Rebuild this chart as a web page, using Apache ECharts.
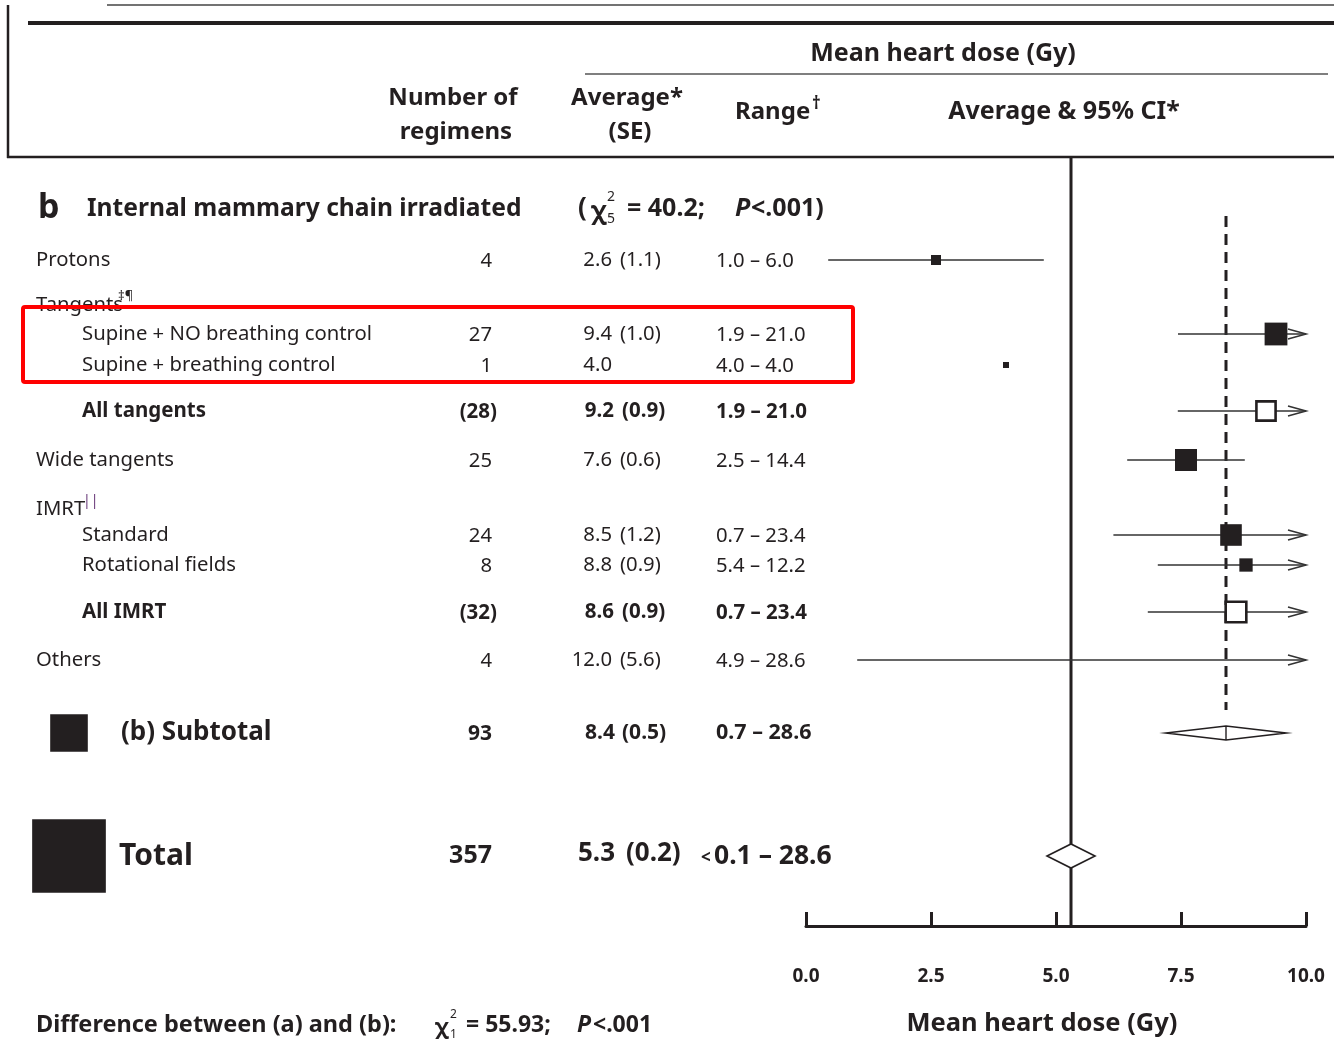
<!DOCTYPE html>
<html>
<head>
<meta charset="utf-8">
<script src="https://cdn.jsdelivr.net/npm/echarts@6/dist/echarts.min.js"></script>
<style>
html, body { margin: 0; padding: 0; background: #fff; }
#main { width: 1334px; height: 1042px; }
</style>
</head>
<body>
<div id="main"></div>
<script>
// 表格数据
var rowLabels = ['Protons', 'Tangents', 'Supine + NO breathing control', 'Supine + breathing control',
    'All tangents', 'Wide tangents', 'IMRT', 'Standard', 'Rotational fields', 'All IMRT', 'Others',
    '(b) Subtotal', 'Total'];
var rowKinds = ['study', 'group', 'study', 'study', 'pooled', 'study', 'group', 'study', 'study',
    'pooled', 'study', 'subtotal', 'total'];
var regimens = [4, null, 27, 1, 28, 25, null, 24, 8, 32, 4, 93, 357];
var averages = [2.6, null, 9.4, 4.0, 9.2, 7.6, null, 8.5, 8.8, 8.6, 12.0, 8.4, 5.3];
var stdErrors = [1.1, null, 1.0, null, 0.9, 0.6, null, 1.2, 0.9, 0.9, 5.6, 0.5, 0.2];
var ranges = ['1.0 – 6.0', '', '1.9 – 21.0', '4.0 – 4.0', '1.9 – 21.0', '2.5 – 14.4', '',
    '0.7 – 23.4', '5.4 – 12.2', '0.7 – 23.4', '4.9 – 28.6', '0.7 – 28.6', '0.1 – 28.6'];
var xTicks = [0, 2.5, 5, 7.5, 10];

// 版式 (行的位置, 缩进)
var rowY = [260, 305, 334, 365, 411, 460, 509, 535, 565, 612, 660, 733, 856];
var rowIndent = [0, 0, 1, 1, 1, 0, 0, 1, 1, 1, 0, 0, 0];
var FONT = '"Noto Sans", sans-serif';
var INK = '#231f20';
var Z95 = 1.96;
var DIAMOND_Z = 2.4;

function txt(x, y, s, size, opt) {
    opt = opt || {};
    return {
        type: 'text', x: x, y: y, z: 10,
        style: {
            text: s, fontSize: size, fontFamily: FONT,
            fontWeight: opt.weight || 'normal', fontStyle: opt.italic ? 'italic' : 'normal',
            fill: opt.color || INK, align: opt.align || 'left', verticalAlign: 'middle'
        }
    };
}
function line(x1, y1, x2, y2, w, color) {
    return { type: 'line', z: 10, shape: { x1: x1, y1: y1, x2: x2, y2: y2 },
        style: { stroke: color || INK, lineWidth: w } };
}

var myChart = echarts.init(document.getElementById('main'));

// 表头和表格文字
var g = [];
g.push(line(107, 5, 1334, 5, 1.5, '#444'));
g.push(line(8, 5, 8, 158, 2.5));
g.push(line(7, 157, 1334, 157, 2.5));
g.push(line(28, 23, 1334, 23, 4));
g.push(line(585, 74, 1328, 74, 1.5, '#555'));
g.push(txt(943, 54, 'Mean heart dose (Gy)', 25, { weight: 'bold', align: 'center' }));
g.push(txt(453, 98, 'Number of', 24, { weight: 'bold', align: 'center' }));
g.push(txt(456, 132, 'regimens', 24, { weight: 'bold', align: 'center' }));
g.push(txt(627, 98, 'Average*', 24, { weight: 'bold', align: 'center' }));
g.push(txt(630, 132, '(SE)', 24, { weight: 'bold', align: 'center' }));
g.push(txt(735, 112, 'Range', 24, { weight: 'bold' }));
g.push(txt(812, 104, '†', 17, { weight: 'bold' }));
g.push(txt(1064, 112, 'Average & 95% CI*', 25, { weight: 'bold', align: 'center' }));

g.push(txt(38, 208, 'b', 34, { weight: 'bold' }));
g.push(txt(87, 209, 'Internal mammary chain irradiated', 24.6, { weight: 'bold' }));
g.push(txt(578, 209, '(', 26, { weight: 'bold' }));
g.push(txt(591, 212, 'χ', 25, { weight: 'bold' }));
g.push(txt(607, 197, '2', 14));
g.push(txt(607, 219, '5', 14));
g.push(txt(627, 209, '= 40.2;', 25, { weight: 'bold' }));
g.push(txt(735, 209, 'P', 25, { weight: 'bold', italic: true }));
g.push(txt(751, 209, '<.001)', 25, { weight: 'bold' }));

rowLabels.forEach(function (label, i) {
    var kind = rowKinds[i], y = rowY[i];
    var x = rowIndent[i] ? 82 : 36;
    if (kind === 'subtotal' || kind === 'total') {
        var s = 3.9 * Math.sqrt(regimens[i]);
        g.push({ type: 'rect', z: 10, shape: { x: 69 - s / 2, y: y - s / 2, width: s, height: s },
            style: { fill: INK } });
    }
    if (kind === 'subtotal') {
        g.push(txt(121, y, label, 26, { weight: 'bold' }));
        g.push(txt(492, y + 1, String(regimens[i]), 21, { weight: 'bold', align: 'right' }));
        g.push(txt(615, y, averages[i].toFixed(1), 21, { weight: 'bold', align: 'right' }));
        g.push(txt(622, y, '(' + stdErrors[i].toFixed(1) + ')', 21, { weight: 'bold' }));
        g.push(txt(716, y, ranges[i], 21.5, { weight: 'bold' }));
        return;
    }
    if (kind === 'total') {
        g.push(txt(119, y, label, 30, { weight: 'bold' }));
        g.push(txt(492, y, String(regimens[i]), 25, { weight: 'bold', align: 'right' }));
        g.push(txt(615, y - 2, averages[i].toFixed(1), 26, { weight: 'bold', align: 'right' }));
        g.push(txt(626, y - 2, '(' + stdErrors[i].toFixed(1) + ')', 26, { weight: 'bold' }));
        g.push(txt(701, y + 2, '<', 17, { weight: 'bold' }));
        g.push(txt(714, y, ranges[i], 26.5, { weight: 'bold' }));
        return;
    }
    var bold = kind === 'pooled';
    var sz = bold ? 20.5 : 20.3;
    var w = bold ? 'bold' : 'normal';
    g.push(txt(x, y, label, sz, { weight: w }));
    if (label === 'Tangents') g.push(txt(118, y - 9, '‡¶', 13));
    if (label === 'IMRT') g.push(txt(83, y - 8, '||', 14, { color: '#6a3a7a' }));
    if (regimens[i] != null) {
        g.push(txt(bold ? 497 : 492, y + 1, bold ? '(' + regimens[i] + ')' : String(regimens[i]), sz, { weight: w, align: 'right' }));
    }
    if (averages[i] != null) {
        g.push(txt(bold ? 614 : 612, y, averages[i].toFixed(1), sz, { weight: w, align: 'right' }));
        if (stdErrors[i] != null) g.push(txt(bold ? 622 : 620, y, '(' + stdErrors[i].toFixed(1) + ')', sz, { weight: w }));
        g.push(txt(716, y + 1, ranges[i], sz, { weight: w }));
    }
});

// 红框
g.push({ type: 'rect', z: 20, shape: { x: 23, y: 307, width: 830, height: 75, r: 2 },
    style: { fill: 'none', stroke: '#ff0000', lineWidth: 4 } });

// 底部文字
g.push(txt(36, 1025, 'Difference between (a) and (b):', 23.5, { weight: 'bold' }));
g.push(txt(435, 1028, 'χ', 22, { weight: 'bold' }));
g.push(txt(450, 1015, '2', 12));
g.push(txt(450, 1035, '1', 12));
g.push(txt(466, 1025, '= 55.93;', 23, { weight: 'bold' }));
g.push(txt(577, 1025, 'P', 23, { weight: 'bold', italic: true }));
g.push(txt(593, 1025, '<.001', 23, { weight: 'bold' }));

// 只画有均值的行
var plotRows = [];
rowKinds.forEach(function (k, i) { if (averages[i] != null) plotRows.push(i); });

function renderRow(params, api) {
    var i = plotRows[params.dataIndex];
    var kind = rowKinds[i], m = averages[i], se = stdErrors[i];
    var y = api.coord([0, rowY[i]])[1];
    var x0 = api.coord([0, rowY[i]])[0], x10 = api.coord([10, rowY[i]])[0];
    var xc = api.coord([m, rowY[i]])[0];
    var kids = [];
    if (kind === 'subtotal' || kind === 'total') {
        var h = kind === 'total' ? 12 : 7;
        var xl = api.coord([m - DIAMOND_Z * se, 0])[0], xr = api.coord([m + DIAMOND_Z * se, 0])[0];
        kids.push({ type: 'polygon', shape: { points: [[xl, y], [xc, y - h], [xr, y], [xc, y + h]] },
            style: { fill: '#fff', stroke: INK, lineWidth: 1.6 } });
        if (kind === 'subtotal') kids.push({ type: 'line', shape: { x1: xc, y1: y - h, x2: xc, y2: y + h },
            style: { stroke: INK, lineWidth: 1.4 } });
        return { type: 'group', children: kids };
    }
    if (se != null) {
        var lo = m - Z95 * se, hi = m + Z95 * se;
        var xl2 = Math.max(x0, api.coord([lo, 0])[0]);
        var xr2 = Math.min(x10, api.coord([hi, 0])[0]);
        kids.push({ type: 'line', shape: { x1: xl2, y1: y, x2: xr2, y2: y }, style: { stroke: '#333', lineWidth: 1.6 } });
        if (hi > 10) kids.push({ type: 'polyline', shape: { points: [[x10 - 18, y - 5], [x10, y], [x10 - 18, y + 5]] },
            style: { stroke: '#333', lineWidth: 1.6, fill: 'none' } });
    }
    if (m >= 0 && m <= 10) {
        if (kind === 'pooled') {
            var so = 4 * Math.sqrt(regimens[i]) - 2;
            kids.push({ type: 'rect', shape: { x: xc - so / 2, y: y - so / 2, width: so, height: so },
                style: { fill: '#fff', stroke: INK, lineWidth: 2.6 } });
        } else {
            var s = 4 * Math.sqrt(regimens[i]) + 2;
            kids.push({ type: 'rect', shape: { x: xc - s / 2, y: y - s / 2, width: s, height: s },
                style: { fill: INK } });
        }
    }
    return { type: 'group', children: kids };
}

// 参考线: 合计均值 (实线), 分组合计均值 (虚线)
var refKinds = ['total', 'subtotal'];
function renderRef(params, api) {
    var i = rowKinds.indexOf(refKinds[params.dataIndex]);
    var x = api.coord([averages[i], 0])[0];
    if (refKinds[params.dataIndex] === 'total') {
        return { type: 'line', shape: { x1: x, y1: api.coord([0, 158])[1], x2: x, y2: api.coord([0, 926])[1] },
            style: { stroke: INK, lineWidth: 3 } };
    }
    return { type: 'line', shape: { x1: x, y1: 216, x2: x, y2: 710 },
        style: { stroke: INK, lineWidth: 3, lineDash: [11, 7] } };
}

var option = {
    animation: false,
    grid: { left: 806, right: 28, top: 158, bottom: 116 },
    xAxis: {
        type: 'value', min: xTicks[0], max: xTicks[xTicks.length - 1], interval: 2.5,
        axisLine: { show: true, onZero: false, lineStyle: { color: INK, width: 3 } },
        axisTick: { show: true, inside: true, length: 14, lineStyle: { color: INK, width: 3 } },
        axisLabel: { formatter: function (v) { return v.toFixed(1); }, margin: 41, fontSize: 19,
            fontWeight: 'bold', color: INK, fontFamily: FONT },
        splitLine: { show: false },
        name: 'Mean heart dose (Gy)', nameLocation: 'middle', nameGap: 85,
        nameTextStyle: { fontSize: 25.5, fontWeight: 'bold', color: INK, fontFamily: FONT, padding: [0, 28, 0, 0] }
    },
    yAxis: { type: 'value', min: 158, max: 926, inverse: true, show: false },
    graphic: g,
    series: [
        { type: 'custom', z: 1, renderItem: renderRef, data: refKinds.map(function (k) { return [averages[rowKinds.indexOf(k)], 0]; }), clip: false },
        { type: 'custom', z: 2, renderItem: renderRow, data: plotRows.map(function (i) { return [averages[i], rowY[i]]; }), clip: false }
    ]
};
myChart.setOption(option);
</script>
</body>
</html>
